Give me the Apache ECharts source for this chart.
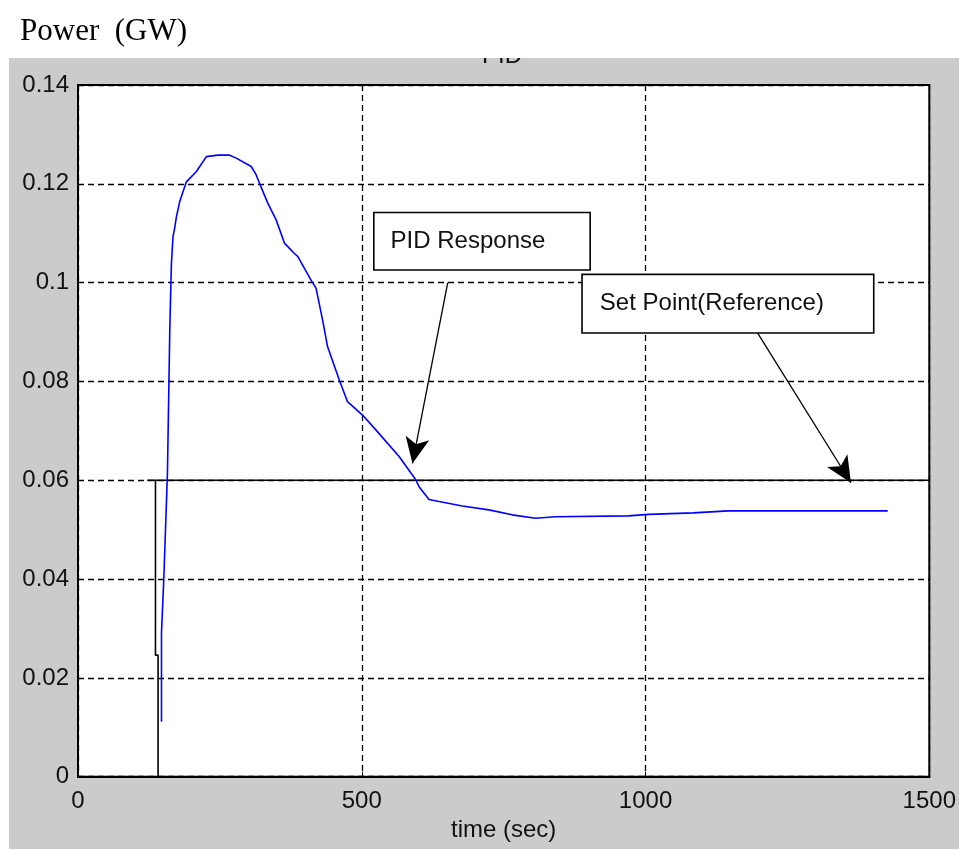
<!DOCTYPE html>
<html>
<head>
<meta charset="utf-8">
<script src="https://cdn.jsdelivr.net/npm/echarts@6/dist/echarts.min.js"></script>
<style>html,body{margin:0;padding:0;background:#fff}#c{width:959px;height:849px}</style>
</head>
<body>
<div id="c"></div>
<script>
// ---- data ----
const pidTime  = [147.1,147.1,149.9,151.1,157.6,161.7,164.6,167.4,170.4,173.4,179.2,185.0,191.0,208.6,226.1,246.5,267.1,278.8,305.2,314.0,319.8,334.4,349.1,363.7,381.3,387.1,410.6,419.4,431.0,439.8,460.4,474.9,501.3,524.8,565.8,595.1,600.9,618.5,636.1,677.0,723.9,764.9,806.0,841.1,969.9,1005.0,1084.1,1145.6,1426.7];
const pidPower = [0.0111,0.0292,0.0294,0.0398,0.0614,0.0904,0.1039,0.1093,0.1111,0.1133,0.1164,0.1184,0.1204,0.1225,0.1255,0.1258,0.1258,0.1252,0.1235,0.1218,0.1201,0.1161,0.1127,0.1080,0.1059,0.1053,0.1005,0.0989,0.0924,0.0870,0.0803,0.0759,0.0732,0.0702,0.0648,0.0601,0.0587,0.0561,0.0557,0.0548,0.0540,0.0530,0.0523,0.0526,0.0528,0.0531,0.0534,0.0538,0.0538];
const setTime  = [122, 1500];
const setPower = [0.06, 0.06];
const stepTime  = [136.5, 136.5, 141.1, 141.1];
const stepPower = [0.06, 0.0246, 0.0246, 0];
const xTicks = [0, 500, 1000, 1500];
const yTicks = [0, 0.02, 0.04, 0.06, 0.08, 0.1, 0.12, 0.14];
// annotations
const annoLabels = ['PID Response', 'Set Point(Reference)'];
const annoBox    = [[711.8, 0.10837], [1145.1, 0.09574]];
const annoTail   = [[651.5, 0.1000], [1194.3, 0.0904]];
const annoTip    = [[589.3, 0.0634], [1361.9, 0.0595]];

const zip = (a, b) => a.map((v, i) => [v, b[i]]);
const chart = echarts.init(document.getElementById('c'), null, {renderer: 'canvas'});
const W = 959, H = 849;
const gridL = 78, gridR = 27.3, gridT = 85, gridB = 72.3;
const boxPads = [[16, 44, 16, 16], [16, 49, 17, 17]];

chart.setOption({
  backgroundColor: '#ffffff',
  animation: false,
  graphic: [
    {type: 'rect', z: -10, shape: {x: 9, y: 58, width: W - 9, height: H - 58}, style: {fill: '#cbcbcb'}, silent: true},
    {type: 'text', z: 50, left: 501 - 19, top: 44, style: {text: 'PID', fontFamily: 'Liberation Sans, Arial', fontSize: 24, fill: '#111'}, silent: true},
    {type: 'rect', z: 60, shape: {x: 0, y: 0, width: W, height: 58}, style: {fill: '#ffffff'}, silent: true},
    {type: 'text', z: 70, left: 20, top: 16, style: {text: 'Power  (GW)', fontFamily: 'Liberation Serif, Times New Roman', fontSize: 31, fill: '#000'}, silent: true}
  ],
  grid: {left: gridL, right: gridR, top: gridT, bottom: gridB, show: true, backgroundColor: '#ffffff', borderColor: '#000', borderWidth: 2},
  xAxis: {
    type: 'value', min: 0, max: 1500, interval: 500,
    name: 'time (sec)', nameLocation: 'middle', nameGap: 41,
    nameTextStyle: {fontFamily: 'Liberation Sans, Arial', fontSize: 24, color: '#111'},
    axisLine: {show: true, onZero: false, lineStyle: {color: '#000', width: 2}},
    axisTick: {show: true, inside: true, length: 5, lineStyle: {color: '#000'}},
    axisLabel: {margin: 13, fontFamily: 'Liberation Sans, Arial', fontSize: 24, color: '#111',
      formatter: v => xTicks.includes(v) ? String(v) : ''},
    splitLine: {show: true, lineStyle: {color: '#000', type: [6, 4], width: 1.3}}
  },
  yAxis: {
    type: 'value', min: 0, max: 0.14, interval: 0.02,
    axisLine: {show: true, onZero: false, lineStyle: {color: '#000', width: 2}},
    axisTick: {show: true, inside: true, length: 5, lineStyle: {color: '#000'}},
    axisLabel: {margin: 9, fontFamily: 'Liberation Sans, Arial', fontSize: 24, color: '#111',
      formatter: v => { const t = yTicks.find(k => Math.abs(k - v) < 1e-9); return t === undefined ? '' : String(t); }},
    splitLine: {show: true, lineStyle: {color: '#000', type: [6, 4], width: 1.3}}
  },
  series: [
    {
      type: 'line', data: zip(setTime, setPower), showSymbol: false, symbol: 'none',
      lineStyle: {color: '#000', width: 1.6}, z: 3, silent: true
    },
    {
      type: 'line', data: zip(stepTime, stepPower), showSymbol: false, symbol: 'none',
      lineStyle: {color: '#000', width: 1.6}, z: 3, silent: true
    },
    {
      type: 'line', data: zip(pidTime, pidPower), showSymbol: false, symbol: 'none',
      lineStyle: {color: '#0000ff', width: 1.6}, z: 4, silent: true,
      markLine: {
        silent: true, symbol: ['none', 'arrow'], symbolSize: [18, 26],
        label: {show: false},
        lineStyle: {color: '#000', width: 1.3, type: 'solid'},
        data: annoTail.map((t, i) => [{coord: t}, {coord: annoTip[i]}])
      },
      markPoint: {
        silent: true, symbol: 'circle', symbolSize: 1,
        itemStyle: {color: 'rgba(0,0,0,0)'},
        data: annoLabels.map((lab, i) => ({
          coord: annoBox[i], value: lab,
          label: {show: true, position: 'inside', formatter: lab,
            backgroundColor: '#ffffff', borderColor: '#000', borderWidth: 1.6,
            padding: boxPads[i], lineHeight: 24,
            fontFamily: 'Liberation Sans, Arial', fontSize: 24, color: '#111'}
        }))
      }
    }
  ]
});
</script>
</body>
</html>
